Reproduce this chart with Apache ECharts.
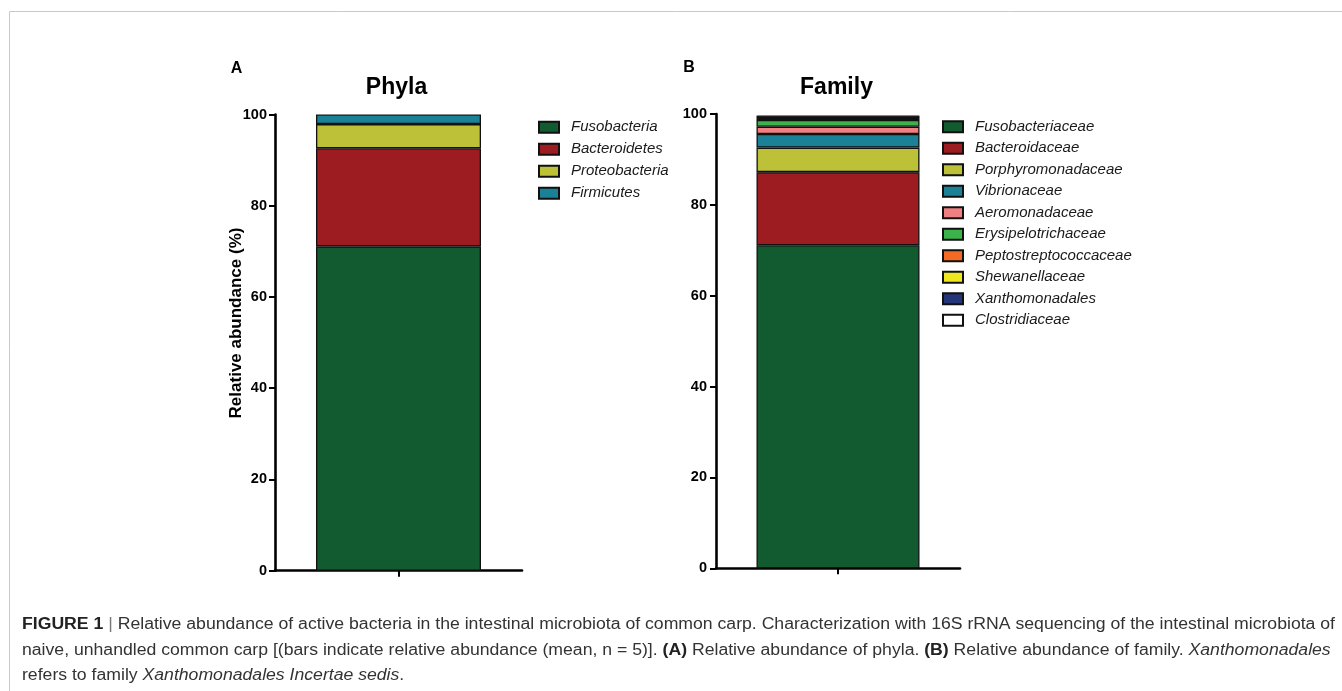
<!DOCTYPE html>
<html><head><meta charset="utf-8">
<script src="https://cdn.jsdelivr.net/npm/echarts@6/dist/echarts.min.js"></script>
<style>html,body{margin:0;padding:0;background:#fff}#c{width:1342px;height:691px}</style>
</head><body><div id="c"></div>
<script>
// ---- data ----
const phylaNames = ['Fusobacteria', 'Bacteroidetes', 'Proteobacteria', 'Firmicutes'];
const phylaValues = [71.1, 21.5, 5.3, 2.1];
const phylaColors = ['#125a2f', '#9c1c21', '#bcc137', '#1b8197'];

const familyNames = ['Fusobacteriaceae', 'Bacteroidaceae', 'Porphyromonadaceae', 'Vibrionaceae',
  'Aeromonadaceae', 'Erysipelotrichaceae', 'Peptostreptococcaceae', 'Shewanellaceae',
  'Xanthomonadales', 'Clostridiaceae'];
const familyValues = [71.1, 16.1, 5.4, 3.0, 1.6, 1.5, 0.3, 0.1, 0.4, 0.1];
const familyColors = ['#125a2f', '#9c1c21', '#bcc137', '#1b8197', '#f07f81', '#3cb34a',
  '#f26a24', '#eee71f', '#25357a', '#ffffff'];

const yMin = 0, yMax = 100, yStep = 20;
const panelTitles = ['Phyla', 'Family'];
const panelLetters = ['A', 'B'];
const yAxisTitle = 'Relative abundance (%)';

const captionLines = [
  '{b|FIGURE 1} {l|| }Relative abundance of active bacteria in the intestinal microbiota of common carp. Characterization with 16S rRNA sequencing of the intestinal microbiota of',
  'naive, unhandled common carp [(bars indicate relative abundance (mean, n = 5)]. {b|(A)} Relative abundance of phyla. {b|(B)} Relative abundance of family. {i|Xanthomonadales}',
  'refers to family {i|Xanthomonadales Incertae sedis}.'
];
const captionPlain1 = 'FIGURE 1 | Relative abundance of active bacteria in the intestinal microbiota of common carp. Characterization with 16S rRNA sequencing of the intestinal microbiota of';

// ---- chart ----
const FONT = '"Liberation Sans", Arial, sans-serif';
const chart = echarts.init(document.getElementById('c'), null, {renderer: 'canvas'});

const CAP = 16;
const cv = document.createElement('canvas').getContext('2d');
cv.font = CAP + 'px "Liberation Sans"';
const capScale = 1313 / cv.measureText(captionPlain1).width;

function yAxisCfg(gi, margin) {
  return {
    type: 'value', gridIndex: gi, min: yMin, max: yMax, interval: yStep,
    axisLine: {show: true, lineStyle: {color: '#000', width: 2.6}},
    axisTick: {show: true, length: 6, lineStyle: {color: '#000', width: 2}},
    axisLabel: {color: '#000', fontWeight: 'bold', fontSize: 14.5, fontFamily: FONT, margin: margin},
    splitLine: {show: false}
  };
}
function xAxisCfg(gi) {
  return {
    type: 'category', gridIndex: gi, data: [''],
    axisLine: {show: true, lineStyle: {color: '#000', width: 2.6}},
    axisTick: {show: true, alignWithLabel: true, length: 6, lineStyle: {color: '#000', width: 2}},
    axisLabel: {show: false}
  };
}
const seriesA = phylaNames.map((n, i) => ({
  name: n, type: 'bar', stack: 'A', xAxisIndex: 0, yAxisIndex: 0, barWidth: 165,
  data: [phylaValues[i]],
  itemStyle: {color: phylaColors[i], borderColor: '#111', borderWidth: 1.3},
  emphasis: {disabled: true}
}));
const seriesB = familyNames.map((n, i) => ({
  name: n, type: 'bar', stack: 'B', xAxisIndex: 1, yAxisIndex: 1, barWidth: 163,
  data: [familyValues[i]],
  itemStyle: {color: familyColors[i], borderColor: '#111', borderWidth: 1.3},
  emphasis: {disabled: true}
}));
const legendText = {fontStyle: 'italic', fontSize: 15, color: '#1a1a1a', fontFamily: FONT, padding: [0, 0, 0, 7]};

chart.setOption({
  animation: false,
  backgroundColor: '#fff',
  grid: [
    {left: 275, top: 114.5, width: 247, height: 456.2},
    {left: 716, top: 114, width: 244, height: 454.3}
  ],
  xAxis: [xAxisCfg(0), xAxisCfg(1)],
  yAxis: [yAxisCfg(0, 8), yAxisCfg(1, 9)],
  legend: [
    {data: phylaNames, orient: 'vertical', left: 538, top: 119.8, padding: 0,
     itemWidth: 20, itemHeight: 11, itemGap: 7, selectedMode: false, icon: 'rect', textStyle: legendText},
    {data: familyNames, orient: 'vertical', left: 942, top: 119.2, padding: 0,
     itemWidth: 20, itemHeight: 11, itemGap: 6.5, selectedMode: false, icon: 'rect', textStyle: legendText}
  ],
  series: seriesA.concat(seriesB),
  graphic: [
    {type: 'polyline', silent: true, shape: {points: [[9.5, 700], [9.5, 11.5], [1360, 11.5]]},
     style: {stroke: '#c9c9c9', lineWidth: 1, fill: null}},
    {type: 'text', x: 236.5, y: 68.5, style: {text: panelLetters[0], font: 'bold 16px ' + FONT, fill: '#000', align: 'center', verticalAlign: 'middle'}},
    {type: 'text', x: 689, y: 67.5, style: {text: panelLetters[1], font: 'bold 16px ' + FONT, fill: '#000', align: 'center', verticalAlign: 'middle'}},
    {type: 'text', x: 396.5, y: 87.5, style: {text: panelTitles[0], font: 'bold 23px ' + FONT, fill: '#000', align: 'center', verticalAlign: 'middle'}},
    {type: 'text', x: 836.5, y: 87.5, style: {text: panelTitles[1], font: 'bold 23px ' + FONT, fill: '#000', align: 'center', verticalAlign: 'middle'}},
    {type: 'text', x: 236, y: 323, rotation: Math.PI / 2,
     style: {text: yAxisTitle, font: 'bold 17px ' + FONT, fill: '#000', align: 'center', verticalAlign: 'middle'}},
  ].concat(captionLines.map((t, k) => ({
    type: 'text', x: 22, y: 625 + k * 25.5, scaleX: capScale, originX: 0, originY: 0,
    style: {
      text: t, fontSize: CAP, fontFamily: FONT, fill: '#333', verticalAlign: 'middle', align: 'left',
      rich: {
        b: {fontWeight: 'bold', fontSize: CAP, fontFamily: FONT, fill: '#222'},
        i: {fontStyle: 'italic', fontSize: CAP, fontFamily: FONT, fill: '#333'},
        l: {fontSize: CAP, fontFamily: FONT, fill: '#777'}
      }
    }
  })))
});
</script>
</body></html>
